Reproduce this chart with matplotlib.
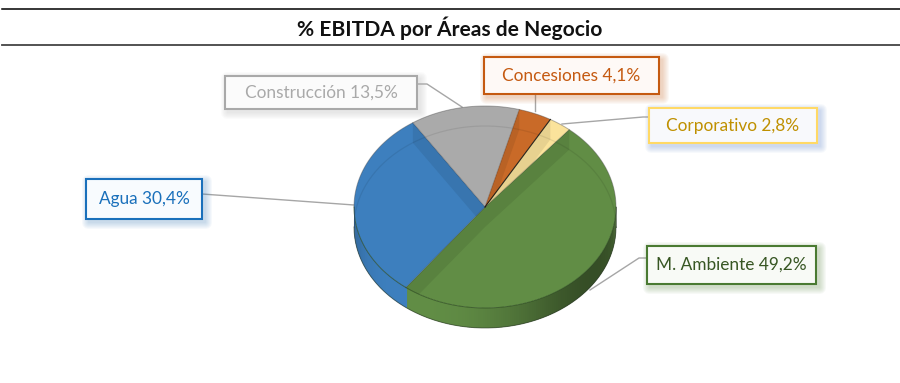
import numpy as np
import matplotlib
matplotlib.use("Agg")
import matplotlib.pyplot as plt
from matplotlib.patches import Rectangle, FancyBboxPatch
from matplotlib.colors import to_rgb

plt.rcParams['font.family'] = ['Lato', 'DejaVu Sans']

# data, clockwise from the top right
areas = ["M. Ambiente", "Agua", "Construcción", "Concesiones", "Corporativo"]
shares = [49.2, 30.4, 13.5, 4.1, 2.8]
colors = ["#618d45", "#3d7fbe", "#aaaaaa", "#c96a28", "#fbe39b"]
edge_colors = ["#4a7a32", "#1a70bb", "#a9a9a9", "#c55a11", "#ffd966"]
box_fills = ["#f8faf6", "#f8fbfe", "#fbfbfb", "#fef9f6", "#f8f9fc"]
shadow_colors = ["#4a7a32", "#2e75b6", "#a9a9a9", "#c55a11", "#4472c4"]
text_colors = ["#375623", "#1a70bb", "#a9a9a9", "#c55a11", "#bf9000"]
title = "% EBITDA por Áreas de Negocio"

# label boxes (left, top, right, bottom) in pixels, and leader lines
boxes = [(647, 246, 816, 284), (86, 179, 202, 219), (225, 76, 417, 109),
         (484, 57, 659, 94), (649, 108, 817, 143)]
leaders = [[(647, 258), (639, 258), (590, 290)],
           [(202, 194), (354, 205)],
           [(417, 84), (427, 84), (462, 107)],
           [(535, 94), (535, 111)],
           [(649, 117), (643, 117), (562, 124)]]

cx, cy, rx, ry, depth = 485, 207, 131, 101, 20
start_angle = 50


def arc(a0, a1, n=60, dy=0):
    t = np.radians(np.linspace(a0, a1, n))
    return cx + rx * np.cos(t), cy + dy - ry * np.sin(t)


def shade(col, f):
    return tuple(min(1, c * f) for c in to_rgb(col))


fig = plt.figure(figsize=(9, 3.83), dpi=100)
ax = fig.add_axes([0, 0, 1, 1])
ax.set_xlim(0, 900)
ax.set_ylim(383, 0)
ax.axis('off')

# header
ax.plot([2, 900], [9, 9], color="#000000", lw=1.1)
ax.plot([2, 900], [44.5, 44.5], color="#444444", lw=1.3)
ax.text(450, 28, title, ha='center', va='center', fontsize=15.1,
        fontweight='bold', color="#111111")

# slice angles
edges = start_angle - np.cumsum([0] + shares) * 3.6

# outer wall of the front, split in thin strips for the shading
for i, col in enumerate(colors):
    a0, a1 = edges[i], edges[i + 1]
    lo, hi = max(a1, -180), min(a0, 0)
    if lo >= hi:
        continue
    steps = np.linspace(hi, lo, int(hi - lo) + 2)
    for s0, s1 in zip(steps[:-1], steps[1:]):
        x0, y0 = arc(s0 + 0.6, s1 - 0.6, 4)
        x1, y1 = arc(s1 - 0.6, s0 + 0.6, 4, dy=depth)
        mid = np.radians((s0 + s1) / 2)
        f = 1.0 - 0.45 * abs(np.cos(mid + np.radians(35))) ** 3
        ax.fill(np.r_[x0, x1], np.r_[y0, y1], color=shade(col, f), lw=0, zorder=2)

# top faces
faces = []
for i, col in enumerate(colors):
    x, y = arc(edges[i], edges[i + 1])
    faces.append(ax.fill(np.r_[cx, x], np.r_[cy, y], color=col, lw=0, zorder=3)[0])

# the cut walls show through the face they fall behind
for i, a in enumerate(edges[:-1]):
    x, y = arc(a, a, 1)
    up_right = np.cos(np.radians(a)) > 0 and np.sin(np.radians(a)) > 0
    host = i if up_right else i - 1
    wall = ax.fill([cx, x[0], x[0], cx], [cy, y[0], y[0] + depth, cy + depth],
                   color=shade(colors[host], 0.92), lw=0, zorder=4)[0]
    wall.set_clip_path(faces[host])
xb, yb = arc(0, 180, dy=depth)
ax.plot(xb, yb, color="#000000", alpha=0.08, lw=0.9, zorder=4)

# outlines
xt, yt = arc(0, 360, 201)
ax.plot(xt[100:], yt[100:], color="#2c4a20", alpha=0.7, lw=0.7, zorder=5)
ax.plot(xt[:101], yt[:101], color="#444444", alpha=0.4, lw=0.7, zorder=5)
xb, yb = arc(-180, 0, dy=depth)
ax.plot(xb, yb, color="#2c3a28", alpha=0.6, lw=0.7, zorder=5)
ax.plot([cx - rx, cx - rx], [cy, cy + depth], color="#2c4a6a", alpha=0.6, lw=0.7, zorder=5)
ax.plot([cx + rx, cx + rx], [cy, cy + depth], color="#2c3a28", alpha=0.6, lw=0.7, zorder=5)
for i, a in enumerate(edges[:-1]):
    x, y = arc(a, a, 1)
    ax.plot([cx, x[0]], [cy, y[0]], color="#111111" if i == 4 else "#333333",
            alpha=0.9 if i == 4 else 0.3, lw=0.8, zorder=5)

# leader lines
for pts in leaders:
    ax.plot(*zip(*pts), color="#a6a6a6", lw=1.0, zorder=1)

# label boxes with a soft shadow
for name, val, box, ec, fc, sc, tc in zip(areas, shares, boxes, edge_colors,
                                          box_fills, shadow_colors, text_colors):
    l, t, r, b = box
    for k in range(7, 0, -1):
        ax.add_patch(FancyBboxPatch((l + 3, t + 3), r - l, b - t,
                                    boxstyle="round,pad=%d,rounding_size=%d" % (k, k),
                                    fc=sc, ec='none', alpha=0.04, zorder=6))
    ax.add_patch(Rectangle((l, t), r - l, b - t, fc=fc, ec=ec, lw=1.5, zorder=7))
    label = "%s %s%%" % (name, ("%.1f" % val).replace(".", ","))
    ax.text((l + r) / 2, (t + b) / 2, label, ha='center', va='center',
            fontsize=12.4, color=tc, zorder=8)

fig.savefig("out.png", dpi=100)
